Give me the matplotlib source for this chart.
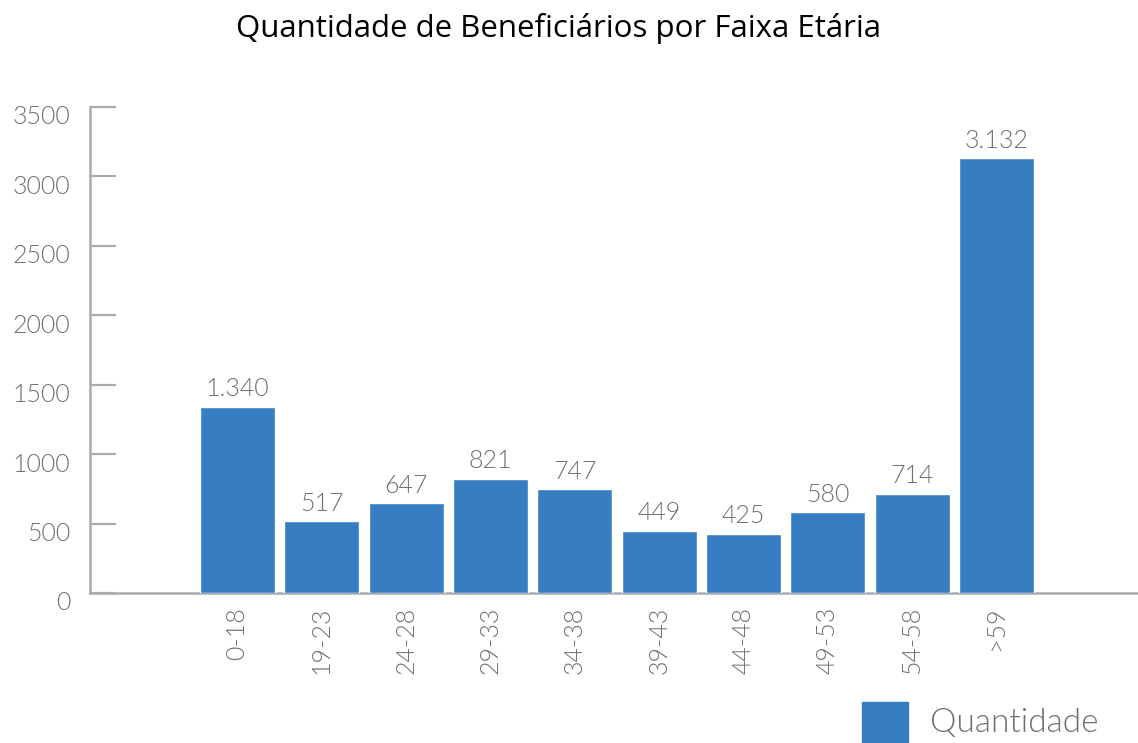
import matplotlib.pyplot as plt
from matplotlib.patches import Rectangle
from matplotlib.transforms import ScaledTranslation

# data
faixas = ["0-18", "19-23", "24-28", "29-33", "34-38", "39-43", "44-48", "49-53", "54-58", ">59"]
quantidade = [1340, 517, 647, 821, 747, 449, 425, 580, 714, 3132]
y_ticks = [0, 500, 1000, 1500, 2000, 2500, 3000, 3500]

BLUE = "#367ec1"
GREY_TXT = "#707073"
GREY_AXIS = "#ababaf"
FONT = "Lato"
WEIGHT = 300

fig = plt.figure(figsize=(11.38, 7.43), dpi=100)
ax = fig.add_axes([90 / 1138, 1 - 593 / 743, 1 - 90 / 1138, (593 - 107) / 743])

x = list(range(len(faixas)))
bars = ax.bar(x, quantidade, width=0.89, color=BLUE, edgecolor="white",
              linewidth=1, label="Quantidade", zorder=3)

# value labels, thousands with a dot
for xi, v in zip(x, quantidade):
    txt = f"{v:,}".replace(",", ".")
    ax.annotate(txt, (xi, v), xytext=(0, 4), textcoords="offset points",
                ha="center", va="bottom", fontsize=18, color=GREY_TXT,
                family=FONT, fontweight=WEIGHT)

ax.set_xlim(-1.75, 10.68)
ax.set_ylim(0, 3500)
ax.set_yticks(y_ticks)
ax.set_yticklabels([str(t) for t in y_ticks])
ax.set_xticks(x)
ax.set_xticklabels(faixas, rotation=90)

for side in ["top", "right"]:
    ax.spines[side].set_visible(False)
for side in ["left", "bottom"]:
    ax.spines[side].set_color(GREY_AXIS)
    ax.spines[side].set_linewidth(1.8)
    ax.spines[side].set_zorder(2)

ax.tick_params(axis="y", direction="in", length=19, width=1.6, color=GREY_AXIS,
               pad=14, labelsize=18, labelcolor=GREY_TXT)
ax.tick_params(axis="x", length=0, pad=10, labelsize=18, labelcolor=GREY_TXT)
# y labels sit a little below their ticks in the original
shift = ScaledTranslation(0, -0.08, fig.dpi_scale_trans)
for lbl in ax.get_yticklabels():
    lbl.set_transform(lbl.get_transform() + shift)
for lbl in ax.get_xticklabels() + ax.get_yticklabels():
    lbl.set_family(FONT)
    lbl.set_fontweight(WEIGHT)

fig.suptitle("Quantidade de Beneficiários por Faixa Etária", x=558 / 1138, y=1 - 13 / 743,
             va="top", fontsize=22.5, family="Open Sans", color="black")

# legend swatch + label at the bottom right (swatch runs off the bottom edge)
fig.add_artist(Rectangle((862 / 1138, 0), 46 / 1138, (743 - 702) / 743,
                         transform=fig.transFigure, color=BLUE))
fig.text(930 / 1138, 1 - 723 / 743, bars.get_label(), va="center", ha="left",
         fontsize=24, color=GREY_TXT, family=FONT, fontweight=WEIGHT)

fig.savefig("out.png", dpi=100)
